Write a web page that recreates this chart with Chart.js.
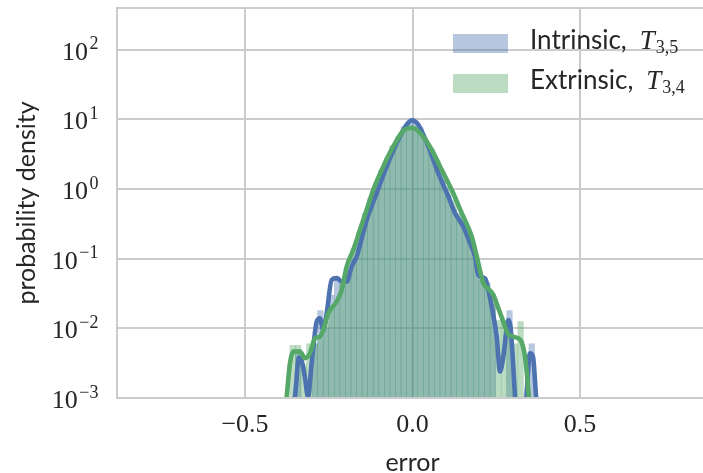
<!DOCTYPE html>
<html>
<head>
<meta charset="utf-8">
<script src="https://cdn.jsdelivr.net/npm/chart.js@4/dist/chart.umd.min.js"></script>
<style>
  html, body { margin: 0; padding: 0; background: #ffffff; overflow: hidden; }
  canvas { display: block; }
</style>
</head>
<body>
<canvas id="c" width="712" height="473" style="width:712px;height:473px"></canvas>
<script>
// Histogram bin centres (bin width ~0.0166)
const binCenters = [
  -0.3579, -0.3413, -0.3247, -0.3081, -0.2915, -0.2749, -0.2583, -0.2417, -0.2251, -0.2085,
  -0.1919, -0.1753, -0.1587, -0.1421, -0.1255, -0.1089, -0.0923, -0.0757, -0.0591, -0.0425,
  -0.0259, -0.0093,  0.0073,  0.0239,  0.0405,  0.0571,  0.0737,  0.0903,  0.1069,  0.1235,
   0.1401,  0.1567,  0.1733,  0.1899,  0.2065,  0.2231,  0.2397,  0.2563,  0.2729,  0.2895,
   0.3061,  0.3227,  0.3393,  0.3559
];

// Normalised histogram heights (probability density), 0 = empty bin
const intrinsicHist = [
  0, 0.005, 0, 0, 0.006, 0.018, 0.010, 0.030, 0.055, 0.045,
  0.060, 0.10, 0.17, 0.32, 0.60, 0.95, 1.6, 2.4, 4.0, 5.3,
  7.8, 9.4, 9.3, 7.6, 5.0, 3.6, 2.2, 1.35, 0.80, 0.50,
  0.36, 0.26, 0.17, 0.11, 0.05, 0.045, 0.022, 0, 0, 0.018,
  0, 0, 0, 0.006
];
const extrinsicHist = [
  0.0057, 0.0057, 0.003, 0.006, 0.006, 0.007, 0.012, 0.020, 0.025, 0.042,
  0.075, 0.14, 0.24, 0.45, 0.75, 1.2, 1.9, 2.8, 4.2, 5.6,
  6.9, 7.6, 7.5, 6.4, 5.0, 3.7, 2.6, 1.75, 1.1, 0.70,
  0.45, 0.30, 0.19, 0.10, 0.048, 0.036, 0.030, 0.013, 0.013, 0.008,
  0.006, 0.0125, 0, 0
];

// Kernel density estimates
const intrinsicKdeX = [
  -0.3627, -0.3507, -0.3388, -0.3299, -0.3209, -0.3119, -0.3009, -0.2860, -0.2761, -0.2663,
  -0.2561, -0.2412, -0.2263, -0.2113, -0.1964, -0.1815, -0.1666, -0.1367, -0.1069, -0.0770,
  -0.0472, -0.0173, -0.0015,  0.0173,  0.0472,  0.0770,  0.1069,  0.1269,  0.1516,  0.1716,
   0.1866,  0.1966,  0.2164,  0.2215,  0.2364,  0.2513,  0.2612,  0.2710,  0.2860,  0.2925,
   0.3009,  0.3060,  0.3149,  0.3328,  0.3409,  0.3507,  0.3597,  0.3687,  0.3776
];
const intrinsicKdeY = [
  0.00048, 0.00107, 0.0038, 0.0033, 0.00195, 0.00104, 0.0032, 0.0125, 0.0140, 0.0095,
  0.0165, 0.0498, 0.0526, 0.047, 0.047, 0.0773, 0.108, 0.362, 0.876, 2.11,
  4.58, 8.39, 9.74, 8.39, 4.09, 1.70, 0.783, 0.452, 0.290, 0.168,
  0.108, 0.058, 0.052, 0.045, 0.0206, 0.0076, 0.0024, 0.0039, 0.0132, 0.0105,
  0.0028, 0.00107, 0.00035, 0.00035, 0.00122, 0.0044, 0.0039, 0.00107, 0.00035
];
const extrinsicKdeX = [
  -0.3866, -0.3755, -0.3657, -0.3558, -0.3358, -0.3209, -0.3060, -0.2910, -0.2761, -0.2663,
  -0.2513, -0.2263, -0.2113, -0.1964, -0.1767, -0.1567, -0.1367, -0.1170, -0.0872, -0.0573,
  -0.0275,  0.0000,  0.0275,  0.0573,  0.0872,  0.1170,  0.1469,  0.1767,  0.1964,  0.2113,
   0.2263,  0.2412,  0.2561,  0.2710,  0.2851,  0.3009,  0.3158,  0.3254,  0.3358,  0.3433,
   0.3478,  0.3537
];
const extrinsicKdeY = [
  0.00035, 0.00105, 0.00316, 0.00464, 0.00464, 0.00373, 0.0044, 0.0072, 0.0076, 0.0095,
  0.0165, 0.0243, 0.0357, 0.0773, 0.134, 0.260, 0.504, 0.977, 2.11, 4.09,
  6.88, 7.60, 6.03, 3.67, 1.89, 0.977, 0.452, 0.208, 0.0865, 0.0446,
  0.037, 0.0303, 0.0195, 0.0125, 0.0083, 0.0076, 0.0072, 0.0064, 0.0039, 0.0018,
  0.00094, 0.00035
];

// Axis ticks
const xTicks = [-0.5, 0.0, 0.5];
const yTickExponents = [-3, -2, -1, 0, 1, 2];

// Legend text
const seriesNames = ['Intrinsic,', 'Extrinsic,'];
const seriesSymbols = ['T', 'T'];
const seriesSubscripts = ['3,5', '3,4'];

const BLUE = '#4C72B0';
const GREEN = '#55A868';
const BLUE_FILL = 'rgba(76,114,176,0.4)';
const GREEN_FILL = 'rgba(85,168,104,0.4)';
const GRID = '#cccccc';
const TEXT = '#262626';
const SANS = 'Lato, "Open Sans", sans-serif';
const SERIF = '"Liberation Serif", "DejaVu Serif", serif';

const toHist = vals => binCenters.map((x, i) => ({ x, y: vals[i] > 0 ? vals[i] : null }));
const toCurve = (xs, ys) => xs.map((x, i) => ({ x, y: ys[i] }));
const minusSign = s => s.replace('-', '\u2212');

// Light grey frame around the plotting area
const framePlugin = {
  id: 'frame',
  afterDatasetsDraw(chart) {
    const a = chart.chartArea, ctx = chart.ctx;
    ctx.save();
    ctx.strokeStyle = GRID;
    ctx.lineWidth = 2;
    ctx.strokeRect(a.left, a.top, a.right - a.left, a.bottom - a.top);
    ctx.restore();
  }
};

// Powers of ten on the y axis, with superscript exponents
const powerLabels = {
  id: 'powerLabels',
  afterDraw(chart) {
    const ctx = chart.ctx, y = chart.scales.y;
    const right = 98.5;
    ctx.save();
    ctx.fillStyle = TEXT;
    ctx.textAlign = 'right';
    ctx.textBaseline = 'alphabetic';
    yTickExponents.forEach(e => {
      const py = y.getPixelForValue(Math.pow(10, e));
      const exp = minusSign(String(e));
      ctx.font = '18px ' + SERIF;
      const ew = ctx.measureText(exp).width;
      ctx.fillText(exp, right, py - 0.5);
      ctx.font = '26px ' + SERIF;
      ctx.fillText('10', right - ew - 1.5, py + 10);
    });
    ctx.restore();
  }
};

// Legend in the upper right corner
const mathLegend = {
  id: 'mathLegend',
  afterDraw(chart) {
    const ctx = chart.ctx;
    const fills = [BLUE_FILL, GREEN_FILL];
    ctx.save();
    seriesNames.forEach((name, i) => {
      const top = 34 + i * 40;
      ctx.fillStyle = fills[i];
      ctx.fillRect(453, top, 55, 19);
      const base = top + 14.5;
      ctx.fillStyle = TEXT;
      ctx.textAlign = 'left';
      ctx.textBaseline = 'alphabetic';
      ctx.font = '26px ' + SANS;
      ctx.fillText(name, 530, base);
      let x = 530 + ctx.measureText(name).width + 13;
      ctx.font = 'italic 27px ' + SERIF;
      ctx.fillText(seriesSymbols[i], x, base);
      x += ctx.measureText(seriesSymbols[i]).width + 1;
      ctx.font = '18px ' + SERIF;
      ctx.fillText(seriesSubscripts[i], x, base + 4.5);
    });
    ctx.restore();
  }
};

new Chart(document.getElementById('c').getContext('2d'), {
  type: 'bar',
  data: {
    datasets: [
      {
        type: 'line', label: 'Extrinsic KDE', order: 1,
        data: toCurve(extrinsicKdeX, extrinsicKdeY),
        borderColor: GREEN, borderWidth: 4.6, pointRadius: 0,
        cubicInterpolationMode: 'monotone', fill: false, clip: 0
      },
      {
        type: 'line', label: 'Intrinsic KDE', order: 2,
        data: toCurve(intrinsicKdeX, intrinsicKdeY),
        borderColor: BLUE, borderWidth: 4.6, pointRadius: 0,
        cubicInterpolationMode: 'monotone', fill: false, clip: 0
      },
      {
        type: 'bar', label: 'Extrinsic', order: 3,
        data: toHist(extrinsicHist),
        backgroundColor: GREEN_FILL, borderWidth: 0,
        grouped: false, barPercentage: 1, categoryPercentage: 1
      },
      {
        type: 'bar', label: 'Intrinsic', order: 4,
        data: toHist(intrinsicHist),
        backgroundColor: BLUE_FILL, borderWidth: 0,
        grouped: false, barPercentage: 1, categoryPercentage: 1
      }
    ]
  },
  options: {
    responsive: false,
    animation: false,
    devicePixelRatio: 1,
    layout: { padding: { top: 8, right: 4, left: 0, bottom: 0 } },
    plugins: { legend: { display: false }, tooltip: { enabled: false } },
    scales: {
      x: {
        type: 'linear', min: -0.882, max: 0.882, offset: false,
        afterBuildTicks: s => { s.ticks = xTicks.map(v => ({ value: v })); },
        afterFit: s => { s.height = 75; },
        grid: { color: GRID, lineWidth: 2, drawTicks: false, offset: false },
        border: { display: false },
        ticks: {
          font: { family: SERIF, size: 26 }, color: TEXT, padding: 12,
          callback: v => minusSign(Number(v).toFixed(1))
        },
        title: {
          display: true, text: 'error', color: TEXT,
          font: { family: SANS, size: 25 }, padding: { top: 0, bottom: -5 }
        }
      },
      y: {
        type: 'logarithmic', min: 1e-3, max: Math.pow(10, 2.6),
        afterBuildTicks: s => { s.ticks = yTickExponents.map(e => ({ value: Math.pow(10, e) })); },
        afterFit: s => { s.width = 117; },
        grid: { color: GRID, lineWidth: 2, drawTicks: false },
        border: { display: false },
        ticks: { display: false },
        title: {
          display: true, text: 'probability density', color: TEXT,
          font: { family: SANS, size: 25 }, padding: { top: 12, bottom: 0 }
        }
      }
    }
  },
  plugins: [framePlugin, powerLabels, mathLegend]
});
</script>
</body>
</html>
